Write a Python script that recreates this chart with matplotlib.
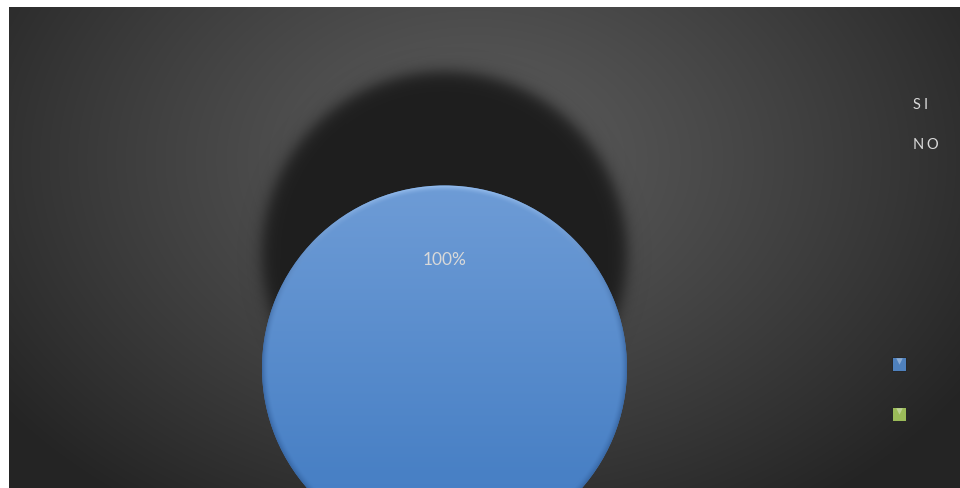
import numpy as np
import matplotlib
matplotlib.use("Agg")
import matplotlib.pyplot as plt

# ---- data ----
categories = ["SI", "NO"]
values = [100, 0]
slice_colors = ["#4f81bd", "#9bbb59"]

W, H = 960, 488
fig = plt.figure(figsize=(W / 100, H / 100), dpi=100)
fig.patch.set_facecolor("white")
ax = fig.add_axes([0, 0, 1, 1])
ax.axis("off")

# chart area (pixel coordinates, y downwards)
x0, y0, x1, y1 = 9, 7, 960, 488

# ---- radial background ----
yy, xx = np.mgrid[y0:y1, x0:x1] + 0.5
cx, cy, rx, ry = 475, 160, 580, 420
d = np.sqrt(((xx - cx) / rx) ** 2 + ((yy - cy) / ry) ** 2)
t = np.clip(d, 0, 1) ** 1.2
c = 0.36 - (0.36 - 0.145) * t
ax.imshow(np.dstack([c, c, c]), extent=(x0, x1, y1, y0), zorder=0,
          interpolation="bilinear")

# ---- pie geometry ----
pcx, pcy, R = 444.5, 368, 182.5

# soft dark shadow disc above the pie
scx, scy = 444.5, 254
dd = np.sqrt((xx - scx) ** 2 + (yy - scy) ** 2)
alpha = 1.0 / (1.0 + np.exp((dd - R) / 4.5))
sh = np.zeros(dd.shape + (4,))
sh[..., :3] = 0.118
sh[..., 3] = alpha
ax.imshow(sh, extent=(x0, x1, y1, y0), zorder=1, interpolation="bilinear")

# ---- pie ----
wedges, texts, autotexts = ax.pie(
    values, colors=slice_colors, center=(pcx, pcy), radius=R,
    startangle=90, counterclock=True, pctdistance=0.59,
    autopct=lambda p: f"{p:.0f}%" if p > 0 else "",
    wedgeprops=dict(linewidth=0), frame=True,
    textprops=dict(color="#d9d9d9", fontsize=12.5, family=["Lato", "DejaVu Sans"]),
)
for w in wedges:
    w.set_zorder(2)
for tx in autotexts:
    tx.set_zorder(5)

# shaded surface of the slice
bx0, bx1 = pcx - R - 2, pcx + R + 2
by0, by1 = pcy - R - 2, pcy + R + 2
gy, gx = np.mgrid[by0:by1:1.0, bx0:bx1:1.0] + 0.5
r = np.sqrt((gx - pcx) ** 2 + (gy - pcy) ** 2)
top = np.array([0x6e, 0x9c, 0xd6]) / 255
bot = np.array([0x48, 0x80, 0xc5]) / 255
f = np.clip((gy - (pcy - R)) / (1.6 * R), 0, 1)[..., None]
col = top * (1 - f) + bot * f
band = 7.0
edge = np.clip((r - (R - band)) / band, 0, 1)[..., None] ** 1.6
up = np.clip(-(gy - pcy) / np.maximum(r, 1e-6), -1, 1)[..., None]
hi = np.clip(up, 0, 1) ** 1.5
light = np.array([0.66, 0.80, 0.97])
dark = np.array([0.18, 0.35, 0.58])
col = col * (1 - edge * hi * 0.8) + light * edge * hi * 0.8
col = col * (1 - edge * (1 - hi) * 0.65) + dark * edge * (1 - hi) * 0.65
surf = ax.imshow(np.clip(col, 0, 1), extent=(bx0, bx1, by1, by0), zorder=3,
                 interpolation="bilinear")
surf.set_clip_path(wedges[0])

# ---- legend (labels top right, swatches lower right) ----
label_x = 913
label_y = [105, 145]
swatch_x = 898.5
swatch_y = [363.5, 413.5]

fig.canvas.draw()
renderer = fig.canvas.get_renderer()
for name, ly in zip(categories, label_y):
    x = label_x
    for ch in name:
        tt = ax.text(x, ly, ch, color="#d9d9d9", fontsize=10.5,
                     family=["Lato", "DejaVu Sans"], ha="left", va="center",
                     zorder=6)
        bb = tt.get_window_extent(renderer)
        x += bb.width + 2.5

for colr, sy in zip(slice_colors, swatch_y):
    ax.scatter([swatch_x], [sy], s=105, marker="s", color=colr,
               edgecolors="#262626", linewidths=0.7, zorder=6)
    ax.scatter([swatch_x], [sy - 2.5], s=22, marker="v", color="white",
               alpha=0.35, linewidths=0, zorder=7)

ax.set_xlim(0, W)
ax.set_ylim(H, 0)
ax.set_aspect("auto")
ax.axis("off")

fig.savefig("out.png", dpi=100, facecolor=fig.get_facecolor())
